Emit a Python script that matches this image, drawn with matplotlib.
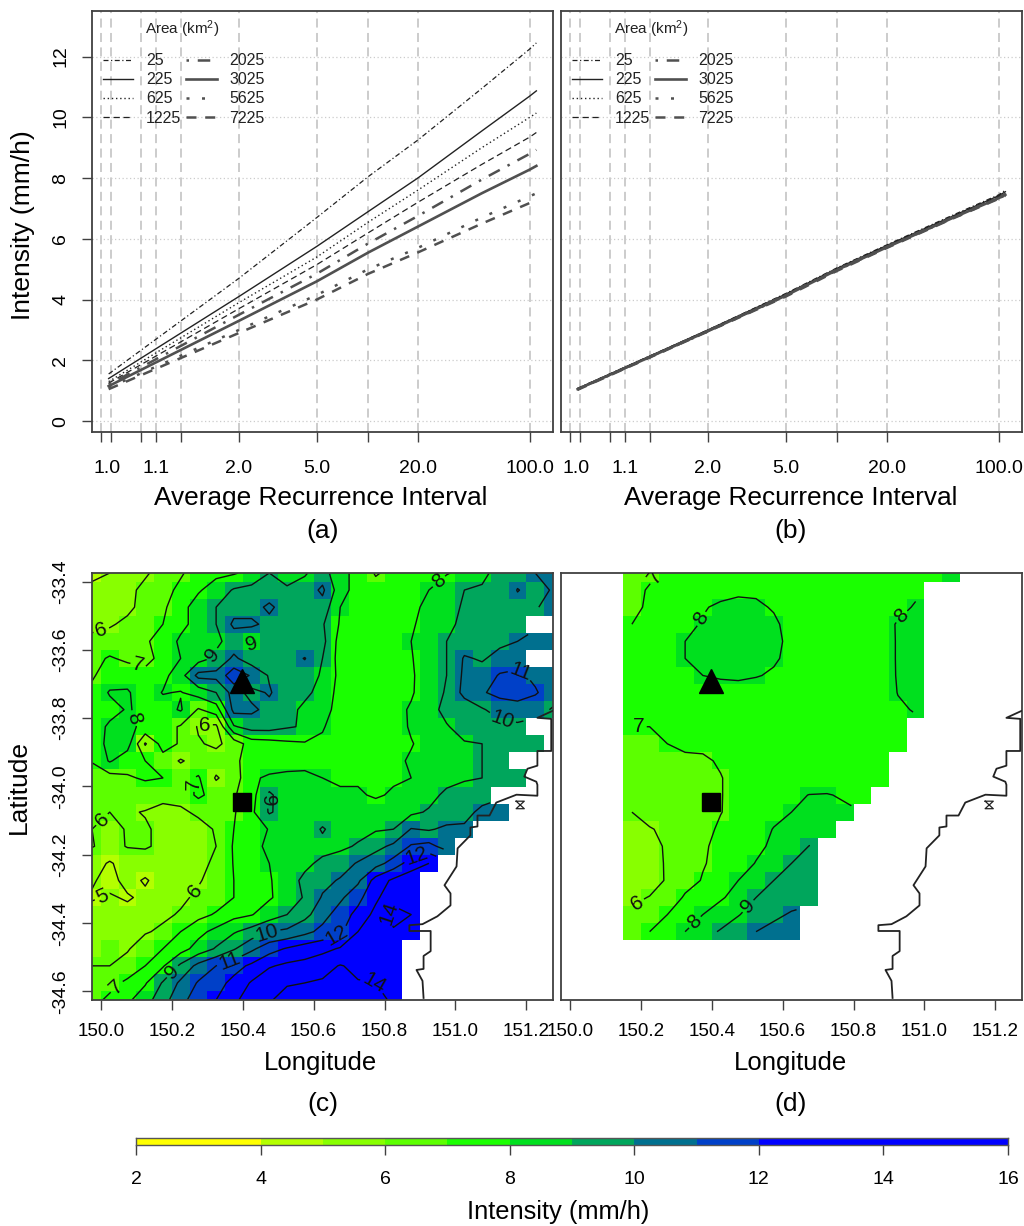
import numpy as np
import matplotlib
matplotlib.use("Agg")
import matplotlib.pyplot as plt
from matplotlib.colors import ListedColormap, BoundaryNorm

plt.rcParams["font.family"] = ["Liberation Sans", "DejaVu Sans"]
plt.rcParams["mathtext.default"] = "regular"

na = np.nan
W, H = 1024, 1226

# --------------------------------------------------
# 1. Curves, top panels
# --------------------------------------------------
ari = [1.01, 2, 5, 10, 20, 50, 100, 110]
areas = ["25", "225", "625", "1225", "2025", "3025", "5625", "7225"]

curves_a = [
    [1.55, 4.7, 6.7, 8.05, 9.25, 10.95, 12.25, 12.45],
    [1.4, 4.1, 5.75, 6.9, 8.0, 9.55, 10.7, 10.87],
    [1.3, 3.9, 5.4, 6.55, 7.6, 9.0, 10.0, 10.14],
    [1.25, 3.7, 5.15, 6.2, 7.2, 8.45, 9.35, 9.5],
    [1.2, 3.5, 4.85, 5.85, 6.75, 7.95, 8.8, 8.93],
    [1.15, 3.3, 4.6, 5.55, 6.4, 7.5, 8.28, 8.4],
    [1.1, 3.0, 4.15, 5.0, 5.7, 6.7, 7.4, 7.5],
    [1.05, 2.9, 4.0, 4.85, 5.55, 6.5, 7.18, 7.28],
]
curves_b = [
    [1.08, 3.0, 4.2, 5.05, 5.8, 6.75, 7.45, 7.6],
    [1.07, 3.0, 4.18, 5.03, 5.78, 6.72, 7.42, 7.55],
    [1.07, 2.98, 4.17, 5.02, 5.76, 6.7, 7.4, 7.52],
    [1.06, 2.98, 4.15, 5.0, 5.75, 6.7, 7.38, 7.5],
    [1.05, 2.97, 4.15, 5.0, 5.74, 6.68, 7.36, 7.48],
    [1.05, 2.96, 4.13, 4.98, 5.72, 6.66, 7.34, 7.45],
    [1.04, 2.95, 4.12, 4.97, 5.72, 6.65, 7.33, 7.44],
    [1.03, 2.95, 4.1, 4.95, 5.7, 6.64, 7.32, 7.42],
]

ari_ticks = [1.006, 1.012, 1.06, 1.11, 1.25, 2, 5, 10, 20, 100]
ari_labels = ["", "", "", "1.1", "", "2.0", "5.0", "", "20.0", "100.0"]

line_styles = [(0, (4, 2, 1, 2)), "-", (0, (1, 2)), (0, (5, 3)),
               (0, (1, 3.5, 5, 3.5)), "-", (0, (1.2, 5)), (0, (4, 3.5))]
line_widths = [0.9, 1.0, 1.0, 0.9, 1.8, 1.9, 1.8, 1.8]
line_colors = ["#222222"] * 4 + ["#505050"] * 4

# --------------------------------------------------
# 2. Intensity grids, bottom panels
# --------------------------------------------------
lon = [149.975 + 0.05 * i for i in range(27)]
lat = [-33.375 - 0.05 * i for i in range(26)]

grid_c = [
    [4.8, 5.0, 5.4, 5.9, 6.3, 6.9, 7.4, 7.8, 7.9, 8.3, 9.0, 8.7, 8.9, 9.5, 8.2, 7.8, 6.9, 7.3, 7.5, 7.7, 7.95, 8.2, 8.8, 9.3, 9.5, 10.0, 10.3],
    [5.2, 5.5, 5.8, 6.2, 6.7, 7.2, 7.9, 8.4, 9.1, 9.3, 9.4, 9.1, 9.4, 10.2, 8.4, 7.6, 7.4, 7.5, 7.7, 8.0, 8.4, 9.0, 9.1, 9.0, 10.05, 9.6, 10.1],
    [5.5, 5.7, 5.8, 6.3, 6.8, 7.7, 8.4, 9.0, 9.6, 9.6, 10.2, 9.5, 9.3, 9.6, 8.0, 7.4, 7.3, 7.4, 7.8, 8.2, 8.7, 9.1, 9.3, 9.4, 9.6, 9.9, 10.4],
    [5.8, 5.9, 6.2, 6.6, 7.0, 7.7, 8.4, 9.0, 10.2, 10.2, 9.7, 9.3, 9.2, 9.1, 7.9, 7.3, 7.2, 7.4, 7.9, 8.3, 8.8, 9.2, 9.4, 9.5, 9.7, na, na],
    [6.2, 6.4, 6.6, 6.9, 7.3, 8.2, 8.9, 8.8, 9.4, 8.9, 9.6, 9.0, 9.1, 9.3, 7.6, 7.3, 7.3, 7.5, 8.0, 8.4, 9.0, 9.5, 9.7, 9.8, 10.0, 10.2, 10.3],
    [6.7, 7.1, 6.8, 6.8, 7.2, 8.0, 8.6, 9.2, 10.2, 9.4, 9.5, 9.5, 10.05, 9.0, 7.6, 7.3, 7.3, 7.5, 7.95, 8.4, 9.0, 10.1, 9.9, 10.3, 10.6, na, na],
    [6.9, 7.4, 7.6, 7.2, 7.7, 8.6, 10.3, 10.3, 11.6, 10.9, 9.9, 9.5, 9.4, 8.9, 7.7, 7.4, 7.3, 7.4, 7.9, 8.4, 9.0, 10.2, 10.4, 11.1, 11.2, 10.8, 10.6],
    [7.2, 8.1, 8.1, 7.5, 8.05, 7.95, 8.4, 9.0, 10.4, 9.7, 10.1, 9.4, 9.2, 8.7, 7.6, 7.3, 7.2, 7.4, 7.9, 8.5, 9.1, 10.3, 10.9, 11.3, 11.4, 11.1, 10.5],
    [7.3, 7.6, 8.1, 7.7, 7.6, 8.1, 6.9, 7.5, 10.3, 10.2, 9.7, 9.3, 8.8, 8.5, 7.5, 7.3, 7.3, 7.7, 8.1, 8.5, 9.4, 9.4, 9.9, 10.4, 10.6, 10.4, 9.9],
    [7.4, 8.2, 8.2, 7.8, 7.4, 6.9, 5.9, 5.8, 8.9, 9.4, 9.4, 9.1, 8.9, 8.1, 7.4, 7.3, 7.3, 7.6, 8.1, 8.4, 8.9, 9.5, 9.5, 9.7, 9.8, na, na],
    [7.2, 8.4, 8.4, 5.9, 7.4, 6.9, 6.1, 5.8, 6.4, 7.5, 7.6, 7.8, 7.9, 7.8, 7.5, 7.4, 7.5, 7.7, 7.95, 8.3, 8.6, 8.9, 9.0, 9.3, 9.4, 9.3, na],
    [7.1, 8.1, 7.4, 7.0, 6.6, 5.9, 6.4, 6.5, 6.9, 7.2, 7.3, 7.5, 7.6, 7.7, 7.6, 7.5, 7.6, 7.8, 8.1, 8.4, 8.5, 8.6, 9.0, 9.5, na, na, na],
    [6.2, 6.6, 6.9, 7.1, 7.0, 6.7, 7.1, 5.9, 6.5, 7.8, 8.2, 8.3, 8.3, 8.0, 7.9, 7.9, 7.8, 7.9, 8.0, 8.3, 8.7, 8.9, 9.0, 9.1, 9.1, na, na],
    [6.4, 6.2, 6.4, 6.5, 6.2, 6.4, 7.2, 6.6, 6.9, 7.6, 9.2, 8.3, 8.2, 8.1, 8.1, 8.1, 7.9, 8.1, 8.1, 8.7, 9.2, 9.4, 9.5, na, na, na, na],
    [6.3, 6.0, 6.1, 5.95, 5.8, 5.8, 6.2, 6.5, 6.9, 7.8, 9.1, 8.6, 8.2, 8.4, 8.3, 8.3, 8.4, 8.6, 8.8, 9.1, 9.4, 9.6, 10.3, 10.6, na, na, na],
    [6.0, 5.6, 6.1, 6.1, 5.8, 5.4, 5.6, 6.1, 7.0, 7.1, 8.1, 8.3, 8.4, 9.1, 8.5, 8.7, 8.9, 9.0, 10.05, 9.9, 10.2, 10.2, na, na, na, na, na],
    [6.05, 5.7, 6.05, 6.1, 5.8, 5.4, 5.4, 6.0, 7.1, 7.7, 8.2, 8.4, 8.4, 8.7, 8.8, 9.1, 9.7, 10.2, 11.1, 11.3, 10.6, na, na, na, na, na, na],
    [5.4, 4.9, 5.4, 5.5, 5.6, 5.6, 5.7, 6.2, 7.05, 7.7, 8.0, 8.3, 8.8, 9.2, 9.5, 10.1, 10.6, 11.4, 12.5, 13.0, na, na, na, na, na, na, na],
    [5.1, 4.7, 5.3, 4.9, 5.4, 5.6, 5.9, 6.4, 7.0, 7.6, 7.9, 8.6, 9.2, 9.7, 10.1, 10.8, 12.4, 13.2, 13.6, na, na, na, na, na, na, na, na],
    [4.9, 5.1, 4.9, 5.2, 5.4, 5.8, 6.2, 6.5, 7.0, 7.4, 7.9, 8.4, 9.1, 10.1, 10.8, 11.7, 12.8, 13.7, 13.9, na, na, na, na, na, na, na, na],
    [5.4, 5.5, 5.3, 5.5, 5.8, 6.1, 6.7, 7.1, 7.7, 7.95, 8.5, 9.0, 9.7, 10.6, 11.5, 12.3, 13.3, 14.3, 14.0, na, na, na, na, na, na, na, na],
    [5.7, 5.7, 5.8, 5.9, 6.2, 7.0, 7.7, 8.3, 8.9, 9.4, 10.0, 10.2, 10.7, 11.3, 11.8, 13.0, 13.7, 13.9, 13.5, na, na, na, na, na, na, na, na],
    [5.9, 6.0, 5.9, 6.6, 7.0, 7.6, 8.4, 9.1, 9.9, 10.8, 11.6, 12.1, 12.5, 12.7, 13.1, 13.4, 13.7, 13.7, na, na, na, na, na, na, na, na, na],
    [6.0, 6.0, 6.4, 7.0, 7.9, 9.2, 10.3, 11.0, 11.6, 12.2, 12.9, 13.2, 13.3, 13.7, 14.05, 13.8, 13.8, 13.8, na, na, na, na, na, na, na, na, na],
    [6.4, 6.7, 7.2, 7.9, 9.1, 10.2, 11.1, 11.6, 12.3, 13.1, 13.7, 13.9, 14.0, 14.1, 14.05, 14.05, 14.0, 13.9, na, na, na, na, na, na, na, na, na],
    [6.7, 7.2, 7.8, 8.6, 9.6, 10.7, 11.5, 12.0, 12.8, 13.5, 13.9, 14.4, 14.5, 14.2, 14.2, 14.2, 14.2, 13.9, na, na, na, na, na, na, na, na, na],
]

grid_d = [
    [na] * 4 + [6.75, 6.9, 7.1, 7.3, 7.5, 7.6, 7.7, 7.75, 7.7, 7.6, 7.5, 7.4, 7.4, 7.45, 7.55, 7.7, 7.85, 7.95, 8.05] + [na] * 4,
    [na] * 4 + [6.85, 7.05, 7.3, 7.5, 7.7, 7.8, 7.9, 7.9, 7.8, 7.65, 7.5, 7.45, 7.45, 7.5, 7.6, 7.75, 7.9] + [na] * 6,
    [na] * 4 + [6.85, 7.1, 7.4, 7.7, 7.95, 8.1, 8.15, 8.1, 7.95, 7.75, 7.55, 7.45, 7.45, 7.55, 7.7, 7.85, 8.05] + [na] * 6,
    [na] * 4 + [7.0, 7.2, 7.5, 7.85, 8.05, 8.25, 8.35, 8.3, 8.1, 7.8, 7.55, 7.45, 7.45, 7.55, 7.75, 8.05, 8.2] + [na] * 6,
    [na] * 4 + [7.1, 7.3, 7.6, 8.0, 8.2, 8.35, 8.4, 8.35, 8.15, 7.85, 7.55, 7.45, 7.4, 7.5, 7.7, 8.05, 8.25] + [na] * 6,
    [na] * 4 + [7.1, 7.3, 7.6, 8.0, 8.2, 8.3, 8.35, 8.3, 8.1, 7.8, 7.55, 7.4, 7.35, 7.45, 7.7, 8.05, 8.25] + [na] * 6,
    [na] * 4 + [7.15, 7.3, 7.55, 7.8, 8.0, 8.1, 8.15, 8.05, 7.9, 7.65, 7.45, 7.35, 7.3, 7.4, 7.65, 8.05, 8.2] + [na] * 6,
    [na] * 4 + [7.1, 7.2, 7.35, 7.5, 7.6, 7.65, 7.65, 7.6, 7.5, 7.4, 7.3, 7.25, 7.25, 7.35, 7.6, 8.02, 8.1] + [na] * 6,
    [na] * 4 + [7.05, 7.1, 7.2, 7.3, 7.35, 7.4, 7.4, 7.4, 7.35, 7.3, 7.25, 7.2, 7.2, 7.3, 7.55, 7.9, 8.05] + [na] * 6,
    [na] * 4 + [7.0, 7.0, 7.1, 7.15, 7.2, 7.25, 7.25, 7.25, 7.2, 7.2, 7.2, 7.15, 7.15, 7.2, 7.4, 7.7] + [na] * 7,
    [na] * 4 + [6.85, 6.95, 7.0, 7.05, 7.1, 7.15, 7.2, 7.2, 7.2, 7.2, 7.2, 7.2, 7.15, 7.2, 7.35, 7.6] + [na] * 7,
    [na] * 4 + [6.75, 6.85, 6.9, 6.95, 6.93, 7.05, 7.15, 7.2, 7.25, 7.25, 7.25, 7.3, 7.35, 7.4, 7.45] + [na] * 8,
    [na] * 4 + [6.6, 6.7, 6.75, 6.8, 6.85, 6.98, 7.15, 7.25, 7.3, 7.35, 7.4, 7.45, 7.5, 7.55, 7.55] + [na] * 8,
    [na] * 4 + [6.5, 6.6, 6.65, 6.7, 6.75, 6.98, 7.15, 7.3, 7.45, 7.8, 8.02, 8.05, 7.9, 7.75] + [na] * 9,
    [na] * 4 + [6.0, 6.3, 6.45, 6.55, 6.7, 6.98, 7.2, 7.4, 7.65, 8.0, 8.25, 8.3, 8.15] + [na] * 10,
    [na] * 4 + [5.8, 5.95, 6.15, 6.4, 6.8, 7.1, 7.3, 7.5, 8.05, 8.3, 8.5, 8.55] + [na] * 11,
    [na] * 4 + [5.6, 5.75, 6.1, 6.4, 6.85, 7.3, 7.45, 7.75, 8.2, 8.5, 9.02] + [na] * 12,
    [na] * 4 + [5.5, 5.65, 6.1, 6.55, 6.95, 7.2, 7.5, 8.05, 8.45, 9.0, 9.3] + [na] * 12,
    [na] * 4 + [5.55, 5.8, 6.05, 6.7, 7.05, 7.6, 8.0, 8.45, 9.0, 9.35, 9.6] + [na] * 12,
    [na] * 4 + [5.9, 6.02, 6.5, 7.1, 7.4, 7.9, 8.3, 9.0, 9.3, 9.6, 9.75] + [na] * 12,
    [na] * 4 + [6.1, 6.4, 7.0, 7.5, 8.0, 8.4, 8.95, 9.4, 9.8, 10.1] + [na] * 13,
    [na] * 4 + [6.6, 7.0, 7.9, 8.0, 8.6, 9.1, 9.5, 10.0, 10.3, 10.5] + [na] * 13,
    [na] * 27,
    [na] * 27,
    [na] * 27,
    [na] * 27,
]

# intensity classes and their colours
breaks = [2, 4, 5, 6, 7, 8, 9, 10, 11, 12, 16]
class_colors = ["#FFFF00", "#B4FF00", "#88FF00", "#5CFF00", "#1AFF00",
                "#00E01E", "#00A65C", "#00708F", "#0040C8", "#0000FF"]
cbar_ticks = [2, 4, 6, 8, 10, 12, 14, 16]

# coastline
coast_lon = [151.273, 151.231, 151.270, 151.270, 151.231, 151.231, 151.203, 151.194, 151.228, 151.231,
             151.231, 151.172, 151.115, 151.096, 151.062, 151.062, 151.042, 151.042, 151.006, 151.003,
             150.969, 150.986, 150.986, 150.949, 150.907, 150.870, 150.870, 150.930, 150.930, 150.910,
             150.910, 150.890, 150.907, 150.910]
coast_lat = [-33.779, -33.799, -33.802, -33.896, -33.896, -33.939, -33.948, -33.971, -33.986, -33.995,
             -34.027, -34.024, -34.047, -34.085, -34.085, -34.117, -34.120, -34.143, -34.181, -34.234,
             -34.289, -34.313, -34.348, -34.380, -34.403, -34.406, -34.423, -34.423, -34.482, -34.496,
             -34.534, -34.537, -34.569, -34.619]
bowtie_lon = [151.171, 151.194, 151.171, 151.194, 151.171]
bowtie_lat = [-34.043, -34.043, -34.065, -34.065, -34.043]

triangle_site = (150.397, -33.69)
square_site = (150.397, -34.045)

# contour label places
labels_c = [(150.003, -33.549), (150.428, -33.584), (150.301, -33.604), (150.101, -33.665),
            (150.104, -33.797), (150.293, -33.826), (150.27, -33.992), (150.468, -34.041),
            (150.006, -34.10), (150.006, -34.327), (150.256, -34.298), (150.47, -34.435),
            (150.363, -34.511), (150.2, -34.54), (150.048, -34.59), (150.89, -34.202),
            (150.668, -34.444), (150.806, -34.365), (150.772, -34.566), (150.961, -33.409),
            (151.175, -33.677), (151.13, -33.811)]
labels_d = [(150.358, -33.502), (150.935, -33.502), (150.256, -33.40), (150.194, -33.84),
            (150.194, -34.35), (150.344, -34.388), (150.499, -34.347)]


def add_axes_px(x0, y0, x1, y1):
    return fig.add_axes([x0 / W, 1 - y1 / H, (x1 - x0) / W, (y1 - y0) / H])


def text_px(x, y, s, **kw):
    fig.text(x / W, 1 - y / H, s, ha=kw.pop("ha", "center"), va=kw.pop("va", "center"), **kw)


def style_box(ax):
    for sp in ax.spines.values():
        sp.set_linewidth(1.3)
        sp.set_color("#404040")
    ax.tick_params(length=7.5, width=1, color="#404040", labelsize=14)


def gumbel(t):
    t = np.asarray(t, dtype=float)
    return -np.log(-np.log(1 - 1 / t))


def gumbel_inv(u):
    return 1 / (1 - np.exp(-np.exp(-np.asarray(u, dtype=float))))


def curve_panel(ax, curves, show_y):
    ax.set_xscale("function", functions=(gumbel, gumbel_inv))
    ax.set_xlim(1.0028, 140)
    ax.set_ylim(-0.36, 13.5)
    ax.set_xticks(ari_ticks)
    ax.set_xticklabels(ari_labels)
    ax.minorticks_off()
    ax.tick_params(axis="x", which="minor", length=0)
    ax.set_yticks(range(0, 13, 2))
    for t in ari_ticks:
        ax.axvline(t, color="#c8c8c8", lw=1.3, ls=(0, (5, 3)), zorder=1)
    for v in range(0, 13, 2):
        ax.axhline(v, color="#cccccc", lw=0.9, ls=(0, (1, 2)), zorder=1)
    handles = []
    for vals, ls, lw, col in zip(curves, line_styles, line_widths, line_colors):
        h, = ax.plot(ari, vals, ls=ls, lw=lw, color=col, zorder=3)
        handles.append(h)
    ax.legend(handles, areas, ncol=2, frameon=False, loc="upper left",
              bbox_to_anchor=(0.024, 0.90), borderaxespad=0, borderpad=0,
              fontsize=11.5, labelspacing=0.26, handlelength=1.9, handletextpad=0.8,
              columnspacing=0.3, labelcolor="#222222")
    ax.text(0.115, 0.957, "Area (km$^2$)", transform=ax.transAxes, fontsize=11,
            color="#222222", va="center")
    style_box(ax)
    ax.tick_params(axis="x", pad=13)
    ax.annotate("1.0", (1.009, 0), xycoords=ax.get_xaxis_transform(), xytext=(0, -20.5),
                textcoords="offset points", ha="center", va="top", fontsize=14)
    if show_y:
        ax.tick_params(axis="y", labelrotation=90, pad=9)
        for lab in ax.get_yticklabels():
            lab.set_va("center")
    else:
        ax.tick_params(axis="y", left=False, labelleft=False)


def map_panel(ax, grid, levels, label_places, show_y):
    z = np.ma.masked_invalid(np.array(grid))
    cmap = ListedColormap(class_colors)
    norm = BoundaryNorm(breaks, cmap.N)
    ax.pcolormesh(lon, lat, z, cmap=cmap, norm=norm, shading="nearest", zorder=1)
    cs = ax.contour(lon, lat, z, levels=levels, colors="#111111", linewidths=1.0, zorder=2)
    ax.clabel(cs, fmt="%d", fontsize=15, inline=True, inline_spacing=2, manual=label_places)
    ax.plot(coast_lon, coast_lat, color="#222222", lw=1.3, zorder=3)
    ax.plot(bowtie_lon, bowtie_lat, color="#222222", lw=0.9, zorder=3)
    ax.plot(*triangle_site, marker="^", ms=17, color="black", zorder=4)
    ax.plot(*square_site, marker="s", ms=12.5, color="black", zorder=4)
    ax.set_xlim(149.975, 151.275)
    ax.set_ylim(-34.625, -33.375)
    ax.set_xticks(np.arange(150.0, 151.21, 0.2))
    ax.set_xticklabels(["150.0", "150.2", "150.4", "150.6", "150.8", "151.0", "151.2"])
    ax.set_yticks(np.arange(-34.6, -33.39, 0.2))
    style_box(ax)
    ax.tick_params(axis="x", pad=9, labelsize=13.5)
    if show_y:
        ax.set_yticklabels(["-34.6", "-34.4", "-34.2", "-34.0", "-33.8", "-33.6", "-33.4"])
        ax.tick_params(axis="y", labelrotation=90, pad=9)
        for lab in ax.get_yticklabels():
            lab.set_va("center")
    else:
        ax.tick_params(axis="y", left=False, labelleft=False)


# --------------------------------------------------
# 3. Draw everything
# --------------------------------------------------
fig = plt.figure(figsize=(W / 100, H / 100), dpi=100)

ax_a = add_axes_px(92, 11, 553, 432)
ax_b = add_axes_px(561, 11, 1022, 432)
ax_c = add_axes_px(92, 573, 553, 1000)
ax_d = add_axes_px(561, 573, 1022, 1000)

curve_panel(ax_a, curves_a, True)
curve_panel(ax_b, curves_b, False)
map_panel(ax_c, grid_c, range(5, 15), labels_c, True)
map_panel(ax_d, grid_d, range(6, 11), labels_d, False)

# colour bar
ax_bar = add_axes_px(136, 1138, 1008, 1145)
ax_bar.pcolormesh(breaks, [0, 1], [breaks[:-1]], cmap=ListedColormap(class_colors),
                  norm=BoundaryNorm(breaks, len(class_colors)))
ax_bar.set_xlim(2, 16)
ax_bar.set_yticks([])
ax_bar.set_xticks(cbar_ticks)
for sp in ax_bar.spines.values():
    sp.set_linewidth(1.0)
    sp.set_color("#555555")
ax_bar.tick_params(axis="x", length=7.5, width=1, color="#404040", labelsize=14, pad=11)

# axis titles and panel tags
text_px(321, 498, "Average Recurrence Interval", fontsize=18.9)
text_px(791, 498, "Average Recurrence Interval", fontsize=18.9)
text_px(323, 531, "(a)", fontsize=19)
text_px(791, 531, "(b)", fontsize=19)
text_px(23, 225, "Intensity (mm/h)", fontsize=19, rotation=90)
text_px(19, 787, "Latitude", fontsize=19, rotation=90)
text_px(321, 1063, "Longitude", fontsize=18.5)
text_px(791, 1063, "Longitude", fontsize=18.5)
text_px(323, 1104, "(c)", fontsize=19)
text_px(791, 1104, "(d)", fontsize=19)
text_px(558, 1212, "Intensity (mm/h)", fontsize=18.4)

fig.savefig("out.png", dpi=100)
